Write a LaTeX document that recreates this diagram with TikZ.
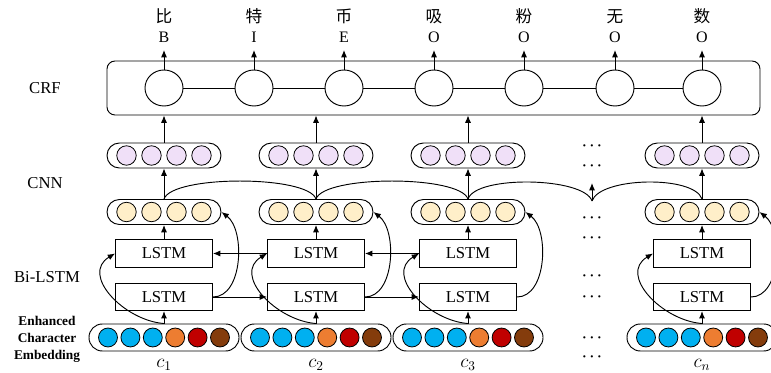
\documentclass[tikz,border=0pt]{standalone}
\usepackage{fontspec}
\setmainfont{Liberation Serif}
\newfontfamily\cjk{Noto Sans CJK SC}
\usetikzlibrary{arrows.meta,shapes.geometric}

\definecolor{embblue}{HTML}{00B0F0}
\definecolor{emborange}{HTML}{ED7D31}
\definecolor{embred}{HTML}{C00000}
\definecolor{embbrown}{HTML}{843C0C}
\definecolor{cnnfill}{HTML}{F0E0F8}
\definecolor{hidfill}{HTML}{FFEFC9}

\begin{document}
\begin{tikzpicture}[x=0.75pt, y=-0.75pt,
  line width=0.7pt,
  arr/.style={-{Latex[length=5.5pt,width=4.5pt]}},
  crfbox/.style={draw, rounded corners=6pt, minimum width=489.75pt, minimum height=40.5pt, inner sep=0pt},
  crfnode/.style={draw, ellipse, minimum width=28.5pt, minimum height=27pt, inner sep=0pt},
  pill/.style={draw, rounded corners=9.3pt, minimum width=85.5pt, minimum height=18.75pt, inner sep=0pt},
  embpill/.style={draw, rounded corners=10pt, minimum width=112.5pt, minimum height=20.25pt, inner sep=0pt},
  unit/.style={draw, circle, minimum size=14.6pt, inner sep=0pt, line width=0.6pt},
  eunit/.style={draw, circle, minimum size=14.2pt, inner sep=0pt, line width=0.6pt},
  lstm/.style={draw, minimum width=72.75pt, minimum height=20.5pt, inner sep=0pt, font=\fontsize{12.5}{14}\selectfont},
  tag/.style={anchor=south, inner xsep=0pt, inner ysep=5.25pt, text depth=0pt, font=\fontsize{12}{14}\selectfont},
  hanzi/.style={font=\cjk\fontsize{12.5}{14}\selectfont, inner sep=0pt},
  layer/.style={font=\fontsize{12.5}{14}\selectfont, inner sep=0pt},
  charlabel/.style={font=\fontsize{14}{16}\selectfont, inner sep=0pt},
  dotsnode/.style={font=\fontsize{11}{13}\selectfont\boldmath, inner sep=0pt},
]
\useasboundingbox (0,0) rectangle (771,373);
\clip (0,0) rectangle (771,373);

% layer names on the left
\node[layer] (lcrf) at (45,88) {CRF};
\node[layer] (lcnn) at (45,183) {CNN};
\node[layer] (lbi) at (47,277) {Bi-LSTM};
\node[align=center, inner sep=0pt, font=\bfseries\fontsize{10}{12.75}\selectfont] (lemb) at (47,339) {Enhanced\\Character\\Embedding};

% CRF layer with its output tags
\node[crfbox] (crf) at (433.5,88) {};
\foreach \x/\h/\lab [count=\i] in {164/比/B, 254/特/I, 344/币/E, 434/吸/O, 524/粉/O, 615/无/O, 702/数/O} {
  \node[crfnode] (k\i) at (\x,88) {};
  \node[tag] (l\i) at (\x,50) {\lab};
  \node[hanzi] (z\i) at (\x,16.5) {\h};
  \draw[arr] (k\i.north) -- (l\i.south);
}
\foreach \i [evaluate=\i as \j using int(\i+1)] in {1,...,6}
  \draw (k\i) -- (k\j);

% one column per character: embedding, Bi-LSTM, hidden states, CNN
\foreach \X/\i/\s in {164/1/1, 316/2/2, 468/3/3, 702/4/n} {
  \node[pill] (p\i) at (\X,155.5) {};
  \foreach \o in {-37.5,-12.5,12.5,37.5}
    \node[unit, fill=cnnfill] at (\X+\o,155.5) {};
  \node[pill] (h\i) at (\X,212) {};
  \foreach \o in {-37.5,-12.5,12.5,37.5}
    \node[unit, fill=hidfill] at (\X+\o,212) {};
  \node[lstm] (t\i) at (\X,253.5) {LSTM};
  \node[lstm] (b\i) at (\X,297) {LSTM};
  \node[embpill] (e\i) at (\X,337.5) {};
  \foreach \o/\c in {-56/embblue, -33.6/embblue, -11.2/embblue, 11.2/emborange, 33.6/embred, 56/embbrown}
    \node[eunit, fill=\c] at (\X+\o,337.5) {};
  \node[charlabel] (c\i) at (\X,365) {$c_{\s}$};

  \draw[arr] (e\i.north) -- (b\i.south);
  \draw[arr] (e\i.north) .. controls +(-40,-3) and +(-35,21) .. (t\i.west);
  \draw[arr] (b\i.east) .. controls +(30,0) and +(24,18) .. (h\i.east);
  \draw[arr] (t\i.north) -- (h\i.south);
  \draw[arr] (h\i.north) -- (p\i.south);
  \draw[arr] (p\i.north) -- (p\i.north |- crf.south);
}

% recurrent links between neighbouring columns
\draw[arr] (b1.east) -- (b2.west);
\draw[arr] (b2.east) -- (b3.west);
\draw[arr] (t2.west) -- (t1.east);
\draw[arr] (t3.west) -- (t2.east);

% convolution window over neighbouring hidden states
\coordinate (mid) at (592,201);
\coordinate (midtop) at (592,183);
\draw (h1.north) .. controls +(8,-24) and +(-8,-24) .. (h2.north);
\draw (h2.north) .. controls +(8,-24) and +(-8,-24) .. (h3.north);
\draw (h3.north) .. controls +(8,-24) and +(-8,-24) .. (mid);
\draw (mid) .. controls +(8,-24) and +(-8,-24) .. (h4.north);
\draw[arr] (mid) -- (midtop);

% ellipses for the omitted columns
\foreach \y [count=\k] in {146,166,218,238,276,297,338,357}
  \node[dotsnode] (d\k) at (592,\y) {$\cdots$};
\end{tikzpicture}
\end{document}
